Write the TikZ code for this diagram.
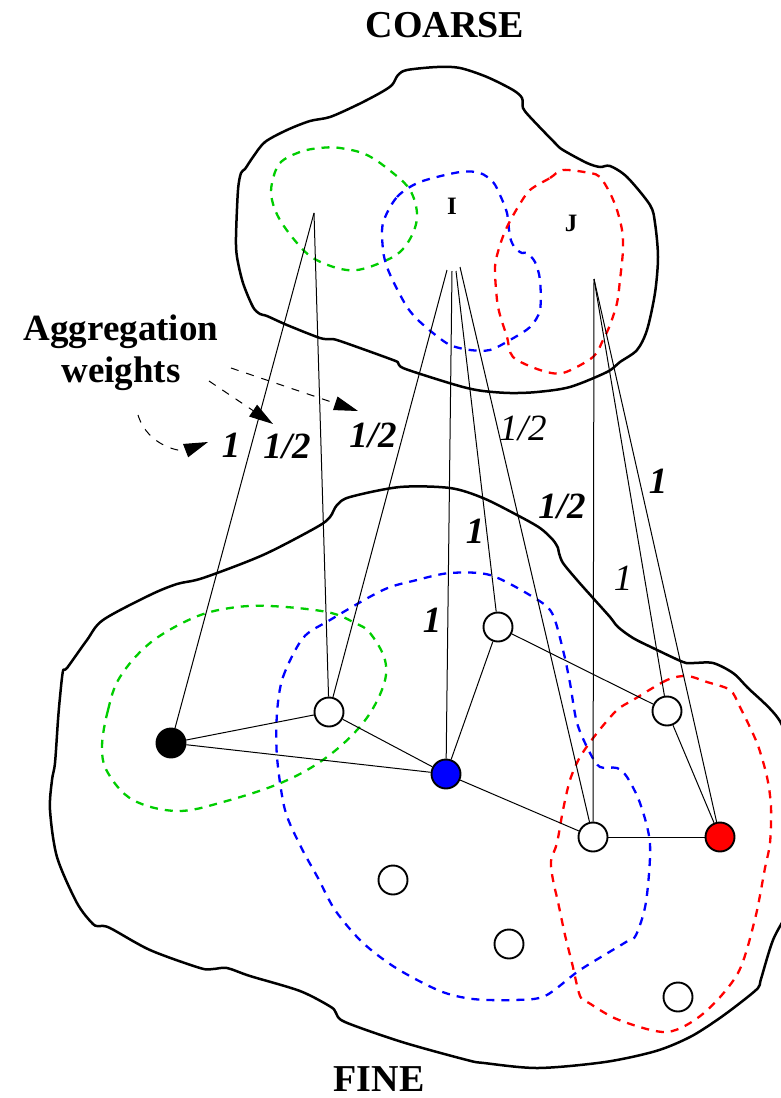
\documentclass[tikz,border=0pt]{standalone}
\usepackage{fontspec}
\setmainfont{Liberation Serif}
\usetikzlibrary{arrows.meta}

\definecolor{aggreen}{RGB}{0,205,0}

\begin{document}
\begin{tikzpicture}[x=1pt, y=-1pt,
  blob/.style={line width=2.5pt, line join=round},
  agg/.style={line width=2.3pt, dash pattern=on 8pt off 7pt},
  link/.style={line width=1pt},
  fnode/.style={circle, draw, line width=1.9pt, minimum size=29pt, inner sep=0pt, fill=white},
  pointer/.style={-{Triangle[length=24pt 0, width=14pt 0]}, line width=1pt, dash pattern=on 8pt off 8pt},
  title/.style={font=\fontsize{38}{42}\selectfont\bfseries, anchor=base},
  aggname/.style={font=\fontsize{25}{28}\selectfont\bfseries, anchor=base},
  weight/.style={font=\fontsize{37}{42}\selectfont\bfseries\itshape, anchor=base},
  plainweight/.style={font=\fontsize{37}{42}\selectfont\itshape, anchor=base}]
  \useasboundingbox (0,0) rectangle (781,1098);
  \clip (0,0) rectangle (781,1098);

  % outlines of the two levels
  \draw[blob] plot[smooth cycle, tension=0.5] coordinates {
    (392,85) (398,75) (407,70) (437,67) (460,68) (487,77) (513,90) (522,98)
    (523,108) (530,117) (555,143) (563,150) (587,163) (600,167) (610,166)
    (627,177) (650,205) (655,223) (658,257) (655,293) (647,330) (637,350)
    (620,362) (607,372) (570,387) (537,392) (510,393) (483,391) (463,387)
    (433,378) (403,368) (398,363) (393,360) (340,341) (330,339) (320,338)
    (287,325) (267,316) (260,314) (253,307) (243,283) (237,257) (236,237)
    (238,190) (241,173) (245,169) (253,157) (265,142) (287,130) (310,121)
    (330,117) (357,105) (380,93)};
  \draw[blob] plot[smooth cycle, tension=0.5] coordinates {
    (337,505) (350,497) (400,487) (450,488) (483,498) (517,515) (540,528)
    (553,540) (558,548) (559,553) (563,563) (577,580) (593,598) (610,617)
    (618,627) (633,638) (653,648) (683,662) (693,663) (713,663) (733,673)
    (747,687) (781,723) (795,780) (800,850) (790,905) (773,940) (761,979)
    (758,988) (740,1003) (717,1020) (690,1037) (656,1051) (605,1062)
    (538,1068) (484,1063) (467,1060) (402,1042) (345,1022) (336,1013)
    (331,1007) (300,991) (250,976) (227,968) (213,969) (200,968) (150,950)
    (110,928) (100,926) (93,924) (77,903) (57,857) (50,810) (52,780)
    (55,763) (58,720) (60,697) (63,671) (67,668) (87,640) (103,620)
    (150,595) (177,584) (203,578) (263,555) (317,527) (330,517)};

  % aggregates on the coarse level
  \draw[agg, aggreen] plot[smooth cycle, tension=0.6] coordinates {
    (272,183) (280,163) (300,152) (320,148) (340,148) (367,155) (393,173)
    (410,190) (417,213) (413,233) (400,252) (380,263) (357,270) (337,268)
    (313,258) (297,243) (280,220) (272,200)};
  \draw[agg, blue] plot[smooth cycle, tension=0.5] coordinates {
    (383,223) (397,197) (420,182) (460,172) (480,173) (493,182) (500,195)
    (507,213) (510,237) (515,248) (522,253) (527,253) (535,262) (540,280)
    (540,310) (530,327) (510,340) (490,350) (470,350) (450,345) (433,333)
    (418,320) (407,307) (395,285) (387,267) (383,250)};
  \draw[agg, red] plot[smooth cycle, tension=0.5] coordinates {
    (530,190) (550,178) (563,170) (590,173) (600,177) (610,193) (617,210)
    (622,230) (623,250) (620,280) (617,303) (610,325) (603,340) (593,357)
    (563,373) (540,370) (513,357) (507,337) (500,315) (497,300) (495,267)
    (500,245) (507,227) (518,207)};

  % aggregates on the fine level
  \draw[agg, aggreen] plot[smooth cycle, tension=0.6] coordinates {
    (102,747) (108,710) (120,677) (150,643) (193,618) (230,608) (270,606)
    (327,612) (355,623) (370,633) (385,660) (383,687) (363,723) (327,757)
    (283,782) (223,802) (177,811) (133,800) (108,773)};
  \draw[agg, blue] plot[smooth cycle, tension=0.5] coordinates {
    (277,713) (283,677) (303,638) (330,620) (383,590) (417,580) (450,573)
    (490,575) (533,597) (552,613) (563,650) (570,683) (577,723) (590,753)
    (600,767) (617,768) (627,777) (640,803) (650,844) (646,902) (636,935)
    (626,942) (580,970) (545,996) (514,1000) (473,999) (440,991) (396,968)
    (362,942) (335,910) (318,878) (301,847) (285,810) (277,757)};
  \draw[agg, red] plot[smooth cycle, tension=0.5] coordinates {
    (687,676) (667,680) (633,700) (617,710) (597,733) (580,757) (570,780)
    (563,810) (557,843) (551,861) (553,880) (558,902) (565,935) (572,963)
    (580,996) (589,1003) (619,1020) (667,1032) (704,1013) (738,973)
    (755,919) (765,868) (770,843) (771,807) (767,777) (757,743) (740,707)
    (730,690) (707,682)};

  \node[aggname] (nameI) at (452,214) {I};
  \node[aggname] (nameJ) at (571,231) {J};

  % coarse points
  \coordinate (cg) at (314,213);
  \coordinate (ci1) at (447,270);
  \coordinate (ci2) at (452,271);
  \coordinate (ci3) at (456,271);
  \coordinate (ci4) at (460,267);
  \coordinate (cj) at (594,279);

  % fine points
  \node[fnode, fill=black] (fblack) at (171,743) {};
  \node[fnode] (fa) at (329,712) {};
  \node[fnode, fill=blue] (fblue) at (446,774) {};
  \node[fnode] (fb) at (498,627) {};
  \node[fnode] (fc) at (667,711) {};
  \node[fnode] (fd) at (593,837) {};
  \node[fnode, fill=red] (fred) at (720,837) {};
  \node[fnode] (fe) at (393,880) {};
  \node[fnode] (ff) at (509,944) {};
  \node[fnode] (fg) at (678,997) {};

  \draw[link] (fblack) -- (fa);
  \draw[link] (fblack) -- (fblue);
  \draw[link] (fa) -- (fblue);
  \draw[link] (fblue) -- (fb);
  \draw[link] (fb) -- (fc);
  \draw[link] (fblue) -- (fd);
  \draw[link] (fd) -- (fred);
  \draw[link] (fc) -- (fred);

  \draw[link] (cg) -- (fblack);
  \draw[link] (cg) -- (fa);
  \draw[link] (ci1) -- (fa);
  \draw[link] (ci2) -- (fblue);
  \draw[link] (ci3) -- (fb);
  \draw[link] (ci4) -- (fd);
  \draw[link] (cj) -- (fd);
  \draw[link] (cj) -- (fc);
  \draw[link] (cj) -- (fred);

  % weights
  \node[weight] (w1) at (231,457) {1};
  \node[weight] (w2) at (287,458) {1/2};
  \node[weight] (w3) at (373,447) {1/2};
  \node[plainweight] (w4) at (523,440) {1/2};
  \node[weight] (w5) at (562,518) {1/2};
  \node[weight] (w6) at (658,493) {1};
  \node[weight] (w7) at (475,543) {1};
  \node[plainweight] (w8) at (623,590) {1};
  \node[weight] (w9) at (432,632) {1};

  \node[title, font=\fontsize{37}{42}\selectfont\bfseries, align=center] (aggw) at (121,382) {Aggregation\\weights};
  \coordinate (p1) at (138,415);
  \coordinate (q1) at (208,442);
  \coordinate (p2) at (209,381);
  \coordinate (q2) at (273,424);
  \coordinate (p3) at (231,368);
  \coordinate (q3) at (358,411);
  \draw[pointer] (p1) .. controls (148,447) and (182,452) .. (q1);
  \draw[pointer] (p2) -- (q2);
  \draw[pointer] (p3) -- (q3);

  \node[title] (coarse) at (445,37) {COARSE};
  \node[title] (fine) at (379,1091) {FINE};
\end{tikzpicture}
\end{document}
